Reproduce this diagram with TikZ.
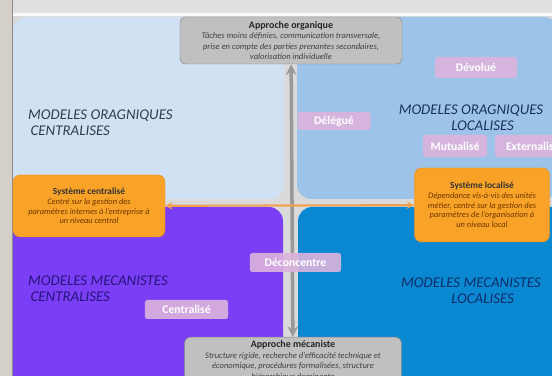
\documentclass[tikz,border=0pt]{standalone}
\usepackage{fontspec}
\setmainfont{Carlito}
\usetikzlibrary{positioning}
\definecolor{fond}{RGB}{218,218,218}
\definecolor{bande}{RGB}{212,208,200}
\definecolor{qTL}{RGB}{208,225,243}
\definecolor{qTR}{RGB}{157,196,232}
\definecolor{qBL}{RGB}{122,62,244}
\definecolor{qBR}{RGB}{10,137,210}
\definecolor{txtTL}{RGB}{50,60,80}
\definecolor{txtTR}{RGB}{25,50,95}
\definecolor{txtBL}{RGB}{40,20,125}
\definecolor{txtBR}{RGB}{15,45,105}
\definecolor{grisbox}{RGB}{192,192,192}
\definecolor{grisbord}{RGB}{140,140,140}
\definecolor{orangebox}{RGB}{248,162,40}
\definecolor{orangebord}{RGB}{232,140,30}
\definecolor{orangetxt}{RGB}{110,55,0}
\definecolor{orangetrait}{RGB}{240,160,80}
\definecolor{rose}{RGB}{220,180,220}
\tikzset{
  approche/.style={draw=grisbord,fill=grisbox,rounded corners=5pt,align=center,
    text=black!75,inner sep=2pt,font=\fontsize{7.3}{9}\selectfont},
  systeme/.style={draw=orangebord,fill=orangebox,rounded corners=6pt,align=center,
    text=orangetxt,inner sep=2pt,font=\fontsize{7.2}{8.3}\selectfont},
  etiquette/.style={fill=rose,fill opacity=0.9,text opacity=1,text=white,rounded corners=2pt,
    font=\fontsize{10}{12}\selectfont\bfseries,inner sep=0pt},
  modele/.style={font=\fontsize{12.7}{13.7}\selectfont\itshape,inner sep=0pt}
}
\begin{document}
\begin{tikzpicture}[x=0.03cm,y=-0.03cm,>=stealth,line join=round,line cap=round]
\useasboundingbox (0,0) rectangle (552,376);
\fill[fond] (0,0) rectangle (552,376);
\fill[black!12] (0,0) rectangle (552,13);
\fill[white!85!fond] (12,13) rectangle (552,16);
\fill[bande] (0,0) rectangle (12,376);
\draw[black!45,line width=0.6pt] (12,0) -- (12,376);
\fill[qTL,rounded corners=12pt] (13,17) rectangle (284,199);
\fill[qTR,rounded corners=12pt] (297,17) rectangle (558,199);
\fill[qBL,rounded corners=12pt] (13,207) rectangle (283,400);
\fill[qBR,rounded corners=12pt] (298,207) rectangle (570,400);
\node[modele,text=txtTL,anchor=north west,align=left] (mTL) at (28,110) {MODELES ORAGNIQUES\\ \,CENTRALISES};
\node[modele,text=txtTR,align=center] (mTR) at (471,118) {MODELES ORAGNIQUES\\ \hspace*{0.7cm}LOCALISES};
\node[modele,text=txtBL,anchor=north west,align=left] (mBL) at (28,276) {MODELES MECANISTES\\ \,CENTRALISES};
\node[modele,text=txtBR,align=center] (mBR) at (471,291) {MODELES MECANISTES\\ \hspace*{0.7cm}LOCALISES};
\node[approche,minimum width=6.66cm,minimum height=1.41cm] (orga) at (291,40.5)
  {{\fontsize{8.5}{9}\selectfont\bfseries\color{black!85} Approche organique}\\
   \textit{Tâches moins définies, communication transversale,}\\
   \textit{prise en compte des parties prenantes secondaires,}\\
   \textit{valorisation individuelle}};
\node[approche,minimum width=6.5cm,anchor=north,inner ysep=3pt] (meca) at (293,337)
  {{\fontsize{8.5}{9}\selectfont\bfseries\color{black!85} Approche mécaniste}\\
   \textit{Structure rigide, recherche d'efficacité technique et}\\
   \textit{économique, procédures formalisées, structure}\\
   \textit{hiérarchique dominante}};
\node[systeme,minimum width=4.56cm,minimum height=1.86cm] (central) at (89,206)
  {{\fontsize{8}{9}\selectfont\bfseries\color{black!80} Système centralisé}\\
   \textit{Centré sur la gestion des}\\
   \textit{paramètres internes à l'entreprise à}\\
   \textit{un niveau central}};
\node[systeme,minimum width=4.05cm,minimum height=2.22cm] (local) at (482,205)
  {{\fontsize{8}{9}\selectfont\bfseries\color{black!80} Système localisé}\\
   \textit{Dépendance vis-à-vis des unités}\\
   \textit{métier, centré sur la gestion des}\\
   \textit{paramètres de l'organisation à}\\
   \textit{un niveau local}};
\draw[<->,line width=3pt,black!40] (orga) -- (meca);
\draw[<->,line width=1.8pt,orangetrait] (central) -- (local);
\node[etiquette,minimum width=2.46cm,minimum height=0.63cm] (devolue) at (476,67.5) {Dévolué};
\node[etiquette,minimum width=2.19cm,minimum height=0.54cm] (delegue) at (334,121) {Délégué};
\node[etiquette,minimum width=1.92cm,minimum height=0.66cm] (mutualise) at (455,146) {Mutualisé};
\node[etiquette,minimum width=2.25cm,minimum height=0.66cm,anchor=west] (externalise) at (495,146) {Externalisé};
\node[etiquette,minimum width=2.73cm,minimum height=0.57cm] (deconcentre) at (295.5,262.5) {Déconcentre};
\node[etiquette,minimum width=2.49cm,minimum height=0.57cm] (centralise) at (186.5,309.5) {Centralisé};
\end{tikzpicture}
\end{document}
